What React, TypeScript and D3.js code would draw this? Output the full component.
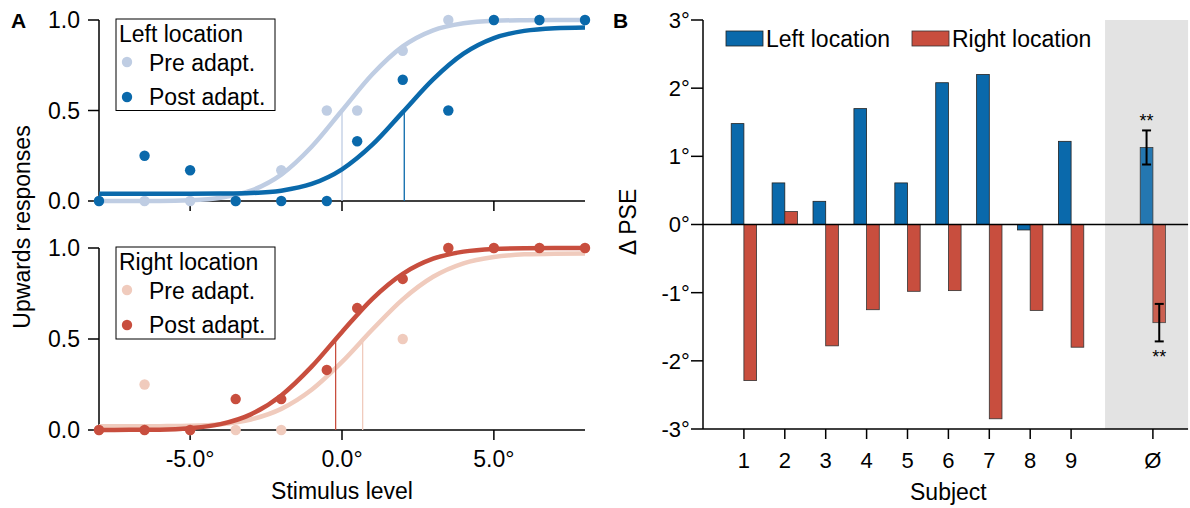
import React from 'react';
import * as d3 from 'd3';

// Panel A: raw responses per stimulus level
const stimLevels = [-8, -6.5, -5, -3.5, -2, -0.5, 0.5, 2, 3.5, 5, 6.5, 8];
const leftPre = [0, 0, 0, 0, 0.17, 0.5, 0.5, 0.83, 1, 1, 1, 1];
const leftPost = [0, 0.25, 0.17, 0, 0, 0, 0.33, 0.67, 0.5, 1, 1, 1];
const rightPre = [0, 0.25, 0, 0, 0, 0.33, 0.67, 0.5, 1, 1, 1, 1];
const rightPost = [0, 0, 0, 0.17, 0.17, 0.33, 0.67, 0.83, 1, 1, 1, 1];

// fitted psychometric curves at whole degrees
const fitLevels = [-8, -7, -6, -5, -4, -3, -2, -1, 0, 1, 2, 3, 4, 5, 6, 7, 8];
const leftPreFit = [0, 0, 0, 0.004, 0.018, 0.057, 0.146, 0.3, 0.5, 0.7, 0.854, 0.943, 0.982, 0.996, 0.999, 1, 1];
const leftPostFit = [0.04, 0.04, 0.04, 0.04, 0.041, 0.044, 0.057, 0.094, 0.175, 0.311, 0.491, 0.672, 0.814, 0.9, 0.94, 0.955, 0.959];
const rightPreFit = [0.02, 0.02, 0.021, 0.023, 0.032, 0.058, 0.116, 0.221, 0.374, 0.552, 0.718, 0.842, 0.916, 0.951, 0.965, 0.969, 0.97];
const rightPostFit = [0, 0.001, 0.002, 0.01, 0.032, 0.086, 0.19, 0.348, 0.539, 0.721, 0.858, 0.941, 0.98, 0.995, 0.999, 1, 1];

// points of subjective equality [pre, post]
const leftPse = [0.0, 2.05];
const rightPse = [0.68, -0.21];

const stimTicks = [-5, 0, 5];
const stimTickLabels = ['-5.0°', '0.0°', '5.0°'];
const respTicks = [0, 0.5, 1];

// Panel B: PSE shifts per subject
const subjectPos = [1, 2, 3, 4, 5, 6, 7, 8, 9, 11];
const subjectLabels = ['1', '2', '3', '4', '5', '6', '7', '8', '9', 'Ø'];
const leftShift = [1.48, 0.61, 0.34, 1.7, 0.61, 2.08, 2.2, -0.08, 1.22, 1.13];
const rightShift = [-2.29, 0.19, -1.78, -1.25, -0.98, -0.97, -2.85, -1.26, -1.8, -1.44];
const meanErr = [0.25, 0.275];
const pseTicks = [3, 2, 1, 0, -1, -2, -3];

const FONT = "'Liberation Sans', Arial, Helvetica, sans-serif";
const FS = 23;
const DARK_BLUE = '#0a69ab';
const LIGHT_BLUE = '#bfcde3';
const DARK_RED = '#c84e3e';
const LIGHT_RED = '#f0cbbd';

const x = d3.scaleLinear().domain([-8, 8]).range([99, 585]);

function Psycho({ y, title, pre, post, preFit, postFit, pse, light, dark }) {
    const line = d3.line<number>()
        .x((_, i) => x(fitLevels[i]))
        .y(d => y(d))
        .curve(d3.curveMonotoneX);
    const y0 = y(0);
    const boxTop = y(1) - 1;
    return (
        <g>
            {/* axes */}
            <line x1={99} x2={99} y1={y(1)} y2={y0} stroke="#000" strokeWidth={1.5} />
            <line x1={99} x2={585} y1={y0} y2={y0} stroke="#000" strokeWidth={1.5} />
            {respTicks.map(t => (
                <g key={t}>
                    <line x1={88} x2={99} y1={y(t)} y2={y(t)} stroke="#000" strokeWidth={1.5} />
                    <text x={80} y={y(t)} dy="0.36em" textAnchor="end" fontSize={FS}>{t.toFixed(1)}</text>
                </g>
            ))}
            {stimTicks.map(t => (
                <line key={t} x1={x(t)} x2={x(t)} y1={y0} y2={y0 + 10} stroke="#000" strokeWidth={1.5} />
            ))}

            {/* pre adaptation */}
            <path d={line(preFit)} fill="none" stroke={light} strokeWidth={4.5} />
            <line x1={x(pse[0])} x2={x(pse[0])} y1={y0} y2={y(0.5)} stroke={light} strokeWidth={1.3} />
            {pre.map((v, i) => (
                <circle key={i} cx={x(stimLevels[i])} cy={y(v)} r={5.2} fill={light} />
            ))}

            {/* post adaptation */}
            <path d={line(postFit)} fill="none" stroke={dark} strokeWidth={4.5} />
            <line x1={x(pse[1])} x2={x(pse[1])} y1={y0} y2={y(0.5)} stroke={dark} strokeWidth={1.3} />
            {post.map((v, i) => (
                <circle key={i} cx={x(stimLevels[i])} cy={y(v)} r={5.2} fill={dark} />
            ))}

            {/* legend */}
            <rect x={116} y={boxTop} width={159} height={y(0.5) - boxTop} fill="#fff" stroke="#000" strokeWidth={1} />
            <text x={119} y={boxTop + 23} fontSize={FS}>{title}</text>
            <circle cx={127} cy={boxTop + 43} r={5.2} fill={light} />
            <text x={149} y={boxTop + 52} fontSize={FS}>Pre adapt.</text>
            <circle cx={127} cy={boxTop + 78} r={5.2} fill={dark} />
            <text x={149} y={boxTop + 86} fontSize={FS}>Post adapt.</text>
        </g>
    );
}

function ShiftPanel() {
    const xb = d3.scaleLinear().domain([0, 12]).range([703, 1193.8]);
    const yb = d3.scaleLinear().domain([-3, 3]).range([429, 20]);
    const bw = xb(0.31) - xb(0);
    const n = subjectPos.length;
    const mx = subjectPos[n - 1];
    return (
        <g>
            <rect x={xb(9.83)} y={yb(3)} width={xb(11.86) - xb(9.83)} height={yb(-3) - yb(3)} fill="#e3e3e3" />
            {subjectPos.map((p, i) => {
                const isMean = i === n - 1;
                const lv = leftShift[i];
                const rv = rightShift[i];
                return (
                    <g key={p} opacity={isMean ? 0.88 : 1}>
                        <rect x={xb(p) - bw} y={yb(Math.max(0, lv))} width={bw} height={Math.abs(yb(lv) - yb(0))}
                            fill={DARK_BLUE} stroke="#222" strokeWidth={0.8} />
                        <rect x={xb(p)} y={yb(Math.max(0, rv))} width={bw} height={Math.abs(yb(rv) - yb(0))}
                            fill={DARK_RED} stroke="#333" strokeWidth={0.8} />
                    </g>
                );
            })}
            {/* mean error bars */}
            {[0, 1].map(k => {
                const v = k === 0 ? leftShift[n - 1] : rightShift[n - 1];
                const cx = k === 0 ? xb(mx) - bw / 2 : xb(mx) + bw / 2;
                const e = meanErr[k];
                return (
                    <g key={k} stroke="#000" strokeWidth={2}>
                        <line x1={cx} x2={cx} y1={yb(v + e)} y2={yb(v - e)} />
                        <line x1={cx - 4.5} x2={cx + 4.5} y1={yb(v + e)} y2={yb(v + e)} />
                        <line x1={cx - 4.5} x2={cx + 4.5} y1={yb(v - e)} y2={yb(v - e)} />
                    </g>
                );
            })}
            <text x={xb(mx) - bw / 2} y={yb(leftShift[n - 1] + meanErr[0]) - 3} textAnchor="middle" fontSize={18}>**</text>
            <text x={xb(mx) + bw / 2} y={yb(rightShift[n - 1] - meanErr[1]) + 22} textAnchor="middle" fontSize={18}>**</text>

            {/* axes */}
            <line x1={xb(0)} x2={xb(11.86)} y1={yb(0)} y2={yb(0)} stroke="#000" strokeWidth={1.3} />
            <line x1={xb(0)} x2={xb(0)} y1={yb(3)} y2={yb(-3)} stroke="#000" strokeWidth={1.5} />
            <line x1={xb(0)} x2={xb(11.86)} y1={yb(-3)} y2={yb(-3)} stroke="#000" strokeWidth={1.5} />
            {pseTicks.map(t => (
                <g key={t}>
                    <line x1={xb(0) - 12} x2={xb(0)} y1={yb(t)} y2={yb(t)} stroke="#000" strokeWidth={1.5} />
                    <text x={xb(0) - 22} y={yb(t)} dy="0.36em" textAnchor="end" fontSize={22}>{`${t}`}</text>
                    <text x={xb(0) - 22} y={yb(t)} dy="0.36em" textAnchor="start" fontSize={22}>°</text>
                </g>
            ))}
            {subjectPos.map((p, i) => (
                <g key={p}>
                    <line x1={xb(p)} x2={xb(p)} y1={yb(-3)} y2={yb(-3) + 10} stroke="#000" strokeWidth={1.5} />
                    <text x={xb(p)} y={yb(-3) + 39} textAnchor="middle" fontSize={22}>{subjectLabels[i]}</text>
                </g>
            ))}
            <text x={xb(6)} y={500} textAnchor="middle" fontSize={FS}>Subject</text>
            <text x={636} y={222} textAnchor="middle" fontSize={FS} transform="rotate(-90, 636, 222)">Δ PSE</text>

            {/* legend */}
            <rect x={726} y={31} width={37} height={15} fill={DARK_BLUE} stroke="#222" strokeWidth={0.8} />
            <text x={766} y={47} fontSize={FS}>Left location</text>
            <rect x={912} y={31} width={37} height={15} fill={DARK_RED} stroke="#333" strokeWidth={0.8} />
            <text x={952} y={47} fontSize={FS}>Right location</text>
        </g>
    );
}

export default function App() {
    const yTop = d3.scaleLinear().domain([0, 1]).range([201, 20]);
    const yBot = d3.scaleLinear().domain([0, 1]).range([430, 248]);
    return (
        <div style={{ position: 'absolute', left: 0, top: 0 }}>
            <svg width={1190} height={508} style={{ display: 'block', fontFamily: FONT, background: '#fff' }}>
                <text x={11} y={28} fontSize={21} fontWeight="bold">A</text>
                <text x={613} y={28} fontSize={21} fontWeight="bold">B</text>
                <Psycho y={yTop} title="Left location" pre={leftPre} post={leftPost}
                    preFit={leftPreFit} postFit={leftPostFit} pse={leftPse} light={LIGHT_BLUE} dark={DARK_BLUE} />
                <Psycho y={yBot} title="Right location" pre={rightPre} post={rightPost}
                    preFit={rightPreFit} postFit={rightPostFit} pse={rightPse} light={LIGHT_RED} dark={DARK_RED} />
                {stimTicks.map((t, i) => (
                    <text key={t} x={x(t)} y={467} textAnchor="middle" fontSize={FS}>{stimTickLabels[i]}</text>
                ))}
                <text x={342} y={499} textAnchor="middle" fontSize={FS}>Stimulus level</text>
                <text x={30} y={227} textAnchor="middle" fontSize={FS} transform="rotate(-90, 30, 227)">Upwards responses</text>
                <ShiftPanel />
            </svg>
        </div>
    );
}
